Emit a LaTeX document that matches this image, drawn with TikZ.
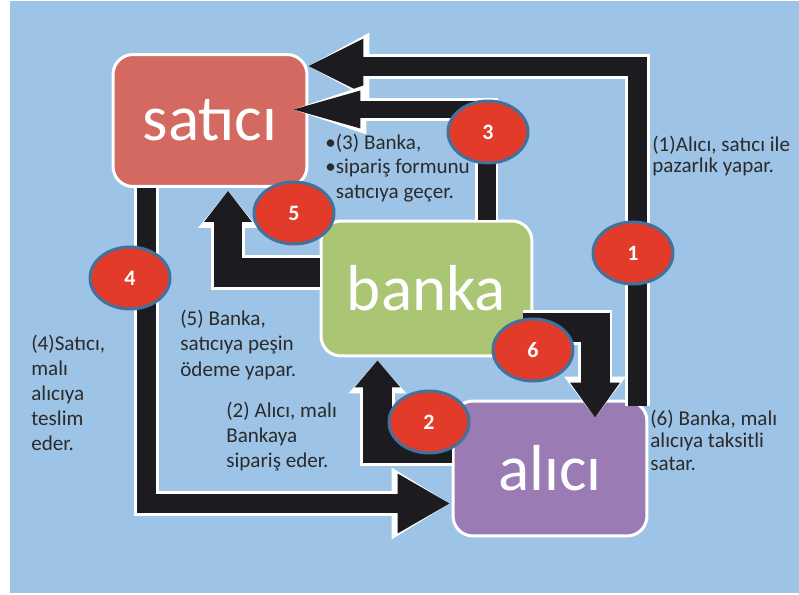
\documentclass[tikz,border=0pt]{standalone}
\usepackage{fontspec}
\setmainfont{Carlito}
\usetikzlibrary{arrows.meta}
\usetikzlibrary{calc}
\usetikzlibrary{shapes.geometric}
\definecolor{bgblue}{HTML}{9DC3E6}
\definecolor{satred}{HTML}{D36960}
\definecolor{bankgreen}{HTML}{AAC573}
\definecolor{aliciviolet}{HTML}{9B7BB4}
\definecolor{numred}{HTML}{E33B2A}
\definecolor{numrim}{HTML}{41719C}
\definecolor{notegray}{HTML}{2B2B2B}
\definecolor{arrblack}{HTML}{1C1B1F}
\tikzstyle{box} = [draw=white,line width=0.06cm,rounded corners=0.4cm,text=white,minimum width=3.88cm,minimum height=2.64cm,font=\fontsize{37}{40}\selectfont]
\tikzstyle{num} = [draw=numrim,fill=numred,ellipse,line width=0.06cm,minimum width=1.6cm,minimum height=1.24cm,inner sep=0pt,text=white,font=\fontsize{12.5}{14}\selectfont\bfseries]
\tikzset{note/.style={anchor=base west,align=left,inner sep=0pt,text=notegray,font=\fontsize{12}{#1}\selectfont}}
\tikzset{arr/.style n args={3}{draw=arrblack,line width=#1,-{Triangle[width=#2,length=#3,line width=0pt]},
    preaction={draw=white,line width=#1+0.12cm,-{Triangle[width=#2+0.24cm,length=#3+0.12cm,line width=0pt]}}}}

\begin{document}
\begin{tikzpicture}[x=0.02cm,y=-0.02cm]
    \useasboundingbox (0,0) rectangle (799,595);
    \fill[bgblue] (10,1) rectangle (799,593);

% Draw blocks, inputs and outputs
    \node[box,fill=satred] at (210,120.5) (satici) {satıcı};
    \node[box,fill=bankgreen,minimum width=4.22cm,minimum height=2.7cm] at (426.5,288.5) (banka) {banka};
    \node[box,fill=aliciviolet,minimum height=2.7cm] at (550,468.5) (alici) {alıcı};

    % join up
    \draw[arr={0.38cm}{1.1cm}{1.1cm}] ($(alici.north east)+(-11,6)$) |- ($(satici.north east)+(0,13)$);
    \draw[arr={0.36cm}{0.76cm}{1.34cm}] ($(banka.north)+(60,0)$) |- ($(satici.east)+(-15,-11)$);
    \draw[arr={0.38cm}{1.2cm}{1.04cm}] ($(satici.south west)+(35,0)$) |- ($(alici.west)+(-2,35)$);
    \draw[arr={0.58cm}{0.96cm}{0.62cm}] ($(banka.west)+(0,-16)$) -| ($(satici.south)+(18,3)$);
    \draw[arr={0.6cm}{0.92cm}{0.54cm}] ($(alici.west)+(0,-20)$) -| ($(banka.south)+(-49,3)$);
    \draw[arr={0.58cm}{1.0cm}{0.7cm}] ($(banka.south east)+(-10,-30)$) -| ($(alici.north)+(45,18)$);

    \foreach \n/\x/\y in {1/633/253,2/429/422,3/488/132,4/130/278,5/294/213,6/533/350} {
        \node[num] at (\x,\y) (c\n) {\n};
    }

    % notes (placed at the baseline of their last line)
    \node[note=13.7pt] at (325,198) (t3) {•(3) Banka,\\•sipariş formunu\\\hphantom{•}satıcıya geçer.};
    \node[note=12.3pt] at (652,173) (t1) {(1)Alıcı, satıcı ile\\pazarlık yapar.};
    \node[note=14.5pt] at (180,376) (t5) {(5) Banka,\\satıcıya peşin\\ödeme yapar.};
    \node[note=14.2pt] at (31,450) (t4) {(4)Satıcı,\\malı\\alıcıya\\teslim\\eder.};
    \node[note=14.2pt] at (226,467) (t2) {(2) Alıcı, malı\\Bankaya\\sipariş eder.};
    \node[note=12.8pt] at (650,470) (t6) {(6) Banka, malı\\alıcıya taksitli\\satar.};
\end{tikzpicture}
\end{document}
